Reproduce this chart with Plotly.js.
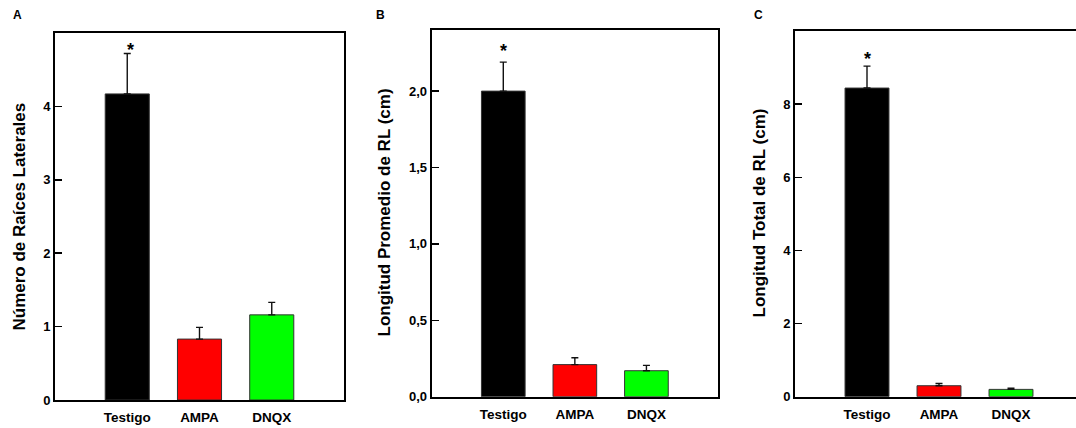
<!DOCTYPE html>
<html><head><meta charset="utf-8">
<script src="https://cdn.plot.ly/plotly-3.0.1.min.js"></script>
<style>html,body{margin:0;padding:0;overflow:hidden;background:#fff}#chart{width:1084px;height:428px}</style>
</head><body><div id="chart"></div>
<script>
// ---- data ----
const categories = ['Testigo', 'AMPA', 'DNQX'];
const barColors = ['#000000', '#ff0000', '#00ff00'];
const raicesLaterales = [4.17, 0.83, 1.16];
const raicesLateralesErr = [0.55, 0.16, 0.17];
const longitudPromedio = [2.00, 0.21, 0.17];
const longitudPromedioErr = [0.19, 0.045, 0.035];
const longitudTotal = [8.44, 0.30, 0.20];
const longitudTotalErr = [0.60, 0.06, 0.03];
const ticksA = [0, 1, 2, 3, 4];
const ticksB = [0, 0.5, 1, 1.5, 2];
const ticksC = [0, 2, 4, 6, 8];
const titleA = 'Número de Raíces Laterales';
const titleB = 'Longitud Promedio de RL (cm)';
const titleC = 'Longitud Total de RL (cm)';
const panelLetters = ['A', 'B', 'C'];
const signif = '*';

// ---- layout helpers ----
const W = 1084, H = 428;
const FONT = 'Liberation Sans, Arial, sans-serif';
const px = v => v / W;
const py = v => 1 - v / H;

function bar(y, err, xa, ya) {
  return {
    type: 'bar', x: categories, y: y, xaxis: xa, yaxis: ya,
    width: 0.61,
    marker: {color: barColors, line: {color: '#333333', width: 1}},
    error_y: {type: 'data', symmetric: false, array: err, arrayminus: err.map(() => 0),
              color: '#111111', thickness: 1.4, width: 3.5},
    hoverinfo: 'skip', showlegend: false
  };
}

function xax(l, r) {
  return {
    domain: [px(l), px(r)], type: 'category', range: [-1, 3],
    showline: true, mirror: true, linecolor: '#000', linewidth: 2,
    ticks: '', showgrid: false, zeroline: false, fixedrange: true,
    ticklabelstandoff: 4,
    tickfont: {family: FONT, size: 13.5, color: '#000', weight: 'bold'},
    automargin: false
  };
}
function yax(b, t, range, tv, fmt, xanchor) {
  return {
    domain: [py(b), py(t)], range: range, anchor: xanchor,
    tickvals: tv, tickformat: fmt,
    showline: true, mirror: true, linecolor: '#000', linewidth: 2,
    ticks: 'inside', ticklen: 7, tickwidth: 1.5, tickcolor: '#000',
    showgrid: false, zeroline: false, fixedrange: true,
    tickfont: {family: FONT, size: 13, color: '#000', weight: 'bold'},
    automargin: false
  };
}

const data = [
  bar(raicesLaterales, raicesLateralesErr, 'x', 'y'),
  bar(longitudPromedio, longitudPromedioErr, 'x2', 'y2'),
  bar(longitudTotal, longitudTotalErr, 'x3', 'y3')
];

const ann = [];
function ytitle(text, x, y) {
  ann.push({text: text, xref: 'paper', yref: 'paper', x: px(x), y: py(y), textangle: -90,
            showarrow: false, xanchor: 'center', yanchor: 'middle',
            font: {family: FONT, size: 17, color: '#000', weight: 'bold'}});
}
function letter(text, x, y) {
  ann.push({text: text, xref: 'paper', yref: 'paper', x: px(x), y: py(y),
            showarrow: false, xanchor: 'center', yanchor: 'middle',
            font: {family: FONT, size: 12, color: '#000', weight: 'bold'}});
}
function star(xref, y, shift) {
  ann.push({text: signif, xref: xref, yref: 'paper', x: 0, y: py(y), xshift: shift,
            showarrow: false, xanchor: 'center', yanchor: 'middle',
            font: {family: FONT, size: 18, color: '#000', weight: 'bold'}});
}
ytitle(titleA, 18.5, 217);
ytitle(titleB, 383.5, 213);
ytitle(titleC, 758.5, 213);
letter(panelLetters[0], 17, 15);
letter(panelLetters[1], 380.5, 15);
letter(panelLetters[2], 758, 15);
star('x', 50, 3);
star('x2', 51, 0);
star('x3', 59, 0);

const layout = {
  width: W, height: H,
  margin: {l: 0, r: 0, t: 0, b: 0, pad: 0},
  paper_bgcolor: '#fff', plot_bgcolor: '#fff',
  separators: ',.',
  bargap: 0,
  xaxis: xax(55, 344),
  yaxis: yax(400, 33, [0, 5], ticksA, '', 'x'),
  xaxis2: xax(431.7, 718),
  yaxis2: yax(396.7, 30, [0, 2.4], ticksB, '.1f', 'x2'),
  xaxis3: xax(795, 1083),
  yaxis3: yax(396.7, 31, [0, 10], ticksC, '', 'x3'),
  annotations: ann,
  font: {family: FONT}
};
layout.xaxis.anchor = 'y';
layout.xaxis2.anchor = 'y2';
layout.xaxis3.anchor = 'y3';

Plotly.newPlot('chart', data, layout, {staticPlot: true, displayModeBar: false});
</script></body></html>
